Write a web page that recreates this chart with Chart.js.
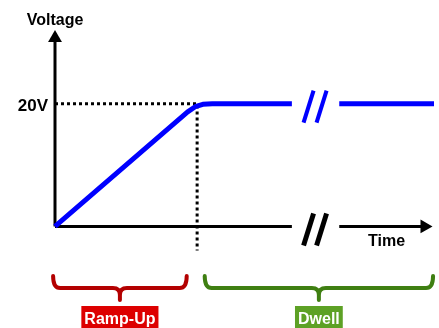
<!DOCTYPE html>
<html>
<head>
<meta charset="utf-8">
<script src="https://cdn.jsdelivr.net/npm/chart.js@4"></script>
<style>
  body { margin: 0; background: #fff; }
</style>
</head>
<body>
<canvas id="myChart" width="439" height="328"></canvas>
<script>
// voltage curve: ramp with rounded corner, then flat dwell (null = axis break)
var times = [0, 14, 14.8, 15.6, 16.6, 25, 27.5, 30, 40];
var volts = [0, 18.67, 19.5, 19.9, 20, 20, null, 20, 20];

// axes drawn as lines with an arrow at the end
var xAxisTimes = [0, 25, 27.5, 30, 39];
var xAxisVolts = [0, 0, null, 0, 0];
var yAxisTimes = [0, 0];
var yAxisVolts = [0, 30.7];

// dotted guide from the 20V level to the end of the ramp
var guideTimes = [0, 15, 15];
var guideVolts = [20, 20, -3.9];

var yTicks = [20];
var yTickLabels = ['20V'];
var breakTime = 27.5;

var phaseNames = ['Ramp-Up', 'Dwell'];
var phaseStart = [-0.2, 15.8];
var phaseEnd = [13.9, 39.9];
var braceColors = ['#b30000', '#3f7f12'];
var labelColors = ['#dd0000', '#5da125'];

function pts(xs, ys) {
  return xs.map(function (x, i) { return { x: x, y: ys[i] }; });
}

var FONT = 'bold 16px "Liberation Sans", Arial, sans-serif';

var decorations = {
  id: 'decorations',
  afterDatasetsDraw: function (chart) {
    var c = chart.ctx;
    var xs = chart.scales.x, ys = chart.scales.y;
    var x0 = xs.getPixelForValue(0), y0 = ys.getPixelForValue(0);
    var bx = xs.getPixelForValue(breakTime);
    c.save();
    c.lineCap = 'butt';

    // break marks  //
    function slashes(cy, color, w) {
      c.strokeStyle = color;
      c.lineWidth = w;
      [-6, 7].forEach(function (dx) {
        c.beginPath();
        c.moveTo(bx + dx - 6, cy + 16);
        c.lineTo(bx + dx + 4, cy - 16);
        c.stroke();
      });
    }
    slashes(y0 + 3, '#000', 5);
    slashes(ys.getPixelForValue(20) + 3, '#0000ff', 4);

    // texts
    c.fillStyle = '#000';
    c.font = FONT;
    c.textAlign = 'center';
    c.textBaseline = 'alphabetic';
    c.fillText('Voltage', x0, 25);
    c.fillText('Time', xs.getPixelForValue(35), y0 + 20);
    c.textAlign = 'right';
    c.font = 'bold 17px "Liberation Sans", Arial, sans-serif';
    yTicks.forEach(function (v, i) {
      c.fillText(yTickLabels[i], x0 - 7, ys.getPixelForValue(v) + 7);
    });

    // braces with labels
    var top = 276, bar = 288, tip = 300, r = 7;
    phaseNames.forEach(function (name, i) {
      var a = xs.getPixelForValue(phaseStart[i]);
      var b = xs.getPixelForValue(phaseEnd[i]);
      var m = (a + b) / 2;
      c.strokeStyle = braceColors[i];
      c.lineWidth = 4;
      c.lineCap = 'round';
      c.beginPath();
      c.moveTo(a, top);
      c.quadraticCurveTo(a, bar, a + r, bar);
      c.lineTo(m - r, bar);
      c.quadraticCurveTo(m, bar, m, bar + r);
      c.lineTo(m, tip);
      c.moveTo(m, bar + r);
      c.quadraticCurveTo(m, bar, m + r, bar);
      c.lineTo(b - r, bar);
      c.quadraticCurveTo(b, bar, b, top);
      c.stroke();

      c.font = FONT;
      var w = c.measureText(name).width + 6;
      c.fillStyle = labelColors[i];
      c.fillRect(m - w / 2, 306, w, 24);
      c.fillStyle = '#fff';
      c.textAlign = 'center';
      c.fillText(name, m, 324);
    });
    c.restore();
  }
};

var arrow = {
  pointStyle: 'triangle',
  pointBackgroundColor: '#000',
  pointBorderColor: '#000',
  pointBorderWidth: 0
};

new Chart(document.getElementById('myChart'), {
  type: 'line',
  data: {
    datasets: [
      {
        data: pts(times, volts),
        borderColor: '#0000ff',
        borderWidth: 5,
        borderJoinStyle: 'round',
        pointRadius: 0,
        clip: false
      },
      Object.assign({
        data: pts(xAxisTimes, xAxisVolts),
        borderColor: '#000',
        borderWidth: 3,
        pointRadius: [0, 0, 0, 0, 8],
        pointRotation: 90,
        clip: false
      }, arrow),
      Object.assign({
        data: pts(yAxisTimes, yAxisVolts),
        borderColor: '#000',
        borderWidth: 3,
        pointRadius: [0, 8],
        clip: false
      }, arrow),
      {
        data: pts(guideTimes, guideVolts),
        borderColor: '#000',
        borderWidth: 3,
        borderDash: [3, 3],
        pointRadius: 0,
        clip: false
      }
    ]
  },
  options: {
    responsive: false,
    animation: false,
    events: [],
    layout: { autoPadding: false, padding: { left: 55, right: 5, top: 30, bottom: 77 } },
    plugins: { legend: { display: false }, tooltip: { enabled: false } },
    scales: {
      x: { type: 'linear', min: 0, max: 40, display: false },
      y: { min: -4, max: 32, display: false }
    }
  },
  plugins: [decorations]
});
</script>
</body>
</html>
